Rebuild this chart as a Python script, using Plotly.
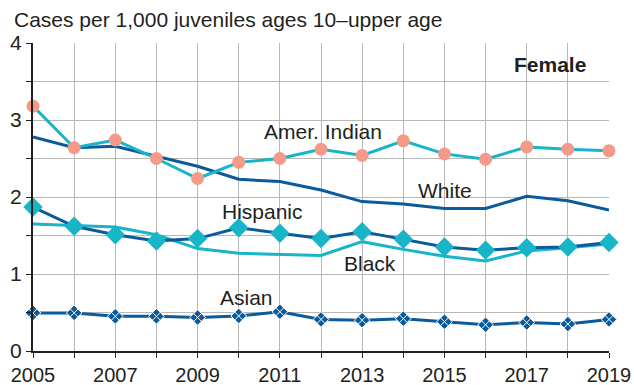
import plotly.graph_objects as go

years = list(range(2005, 2020))
amer_indian = [3.18, 2.64, 2.74, 2.50, 2.24, 2.45, 2.50, 2.62, 2.54, 2.73, 2.56, 2.49, 2.65, 2.62, 2.60]
white = [2.78, 2.64, 2.66, 2.53, 2.40, 2.23, 2.20, 2.09, 1.94, 1.91, 1.85, 1.85, 2.01, 1.95, 1.83]
hispanic = [1.87, 1.62, 1.51, 1.43, 1.46, 1.60, 1.53, 1.46, 1.55, 1.45, 1.35, 1.31, 1.34, 1.35, 1.41]
black = [1.65, 1.63, 1.61, 1.51, 1.33, 1.27, 1.255, 1.24, 1.42, 1.32, 1.23, 1.17, 1.30, 1.34, 1.39]
asian = [0.495, 0.495, 0.45, 0.45, 0.435, 0.455, 0.51, 0.41, 0.40, 0.42, 0.38, 0.34, 0.37, 0.35, 0.41]

y_ticks = [0, 0.5, 1, 1.5, 2, 2.5, 3, 3.5, 4]
y_ticktext = ["0", "", "1", "", "2", "", "3", "", "4"]
x_ticktext = [str(y) if (y - 2005) % 2 == 0 else "" for y in years]

DARK = "#0b5a9c"
CYAN = "#18b4c8"
SALMON = "#f59a88"
FONT = "Liberation Sans, Arial, sans-serif"
TXT = "#231f20"

fig = go.Figure()
fig.add_trace(go.Scatter(x=years, y=white, mode="lines", line=dict(color=DARK, width=3), cliponaxis=False))
fig.add_trace(go.Scatter(x=years, y=black, mode="lines", line=dict(color=CYAN, width=3), cliponaxis=False))
fig.add_trace(go.Scatter(x=years, y=hispanic, mode="lines+markers", line=dict(color=DARK, width=3),
                         marker=dict(symbol="diamond", size=15, color=CYAN), cliponaxis=False))
fig.add_trace(go.Scatter(x=years, y=asian, mode="lines+markers", line=dict(color=DARK, width=3),
                         marker=dict(symbol="diamond-x", size=12, color=DARK, line=dict(color="white", width=1)),
                         cliponaxis=False))
fig.add_trace(go.Scatter(x=years, y=amer_indian, mode="lines+markers", line=dict(color=CYAN, width=3),
                         marker=dict(symbol="circle", size=13, color=SALMON), cliponaxis=False))

labels = [
    ("Amer. Indian", 2012.05, 2.85),
    ("White", 2015.01, 2.08),
    ("Hispanic", 2010.57, 1.81),
    ("Black", 2013.19, 1.13),
    ("Asian", 2010.18, 0.70),
    ("<b>Female</b>", 2017.57, 3.72),
]
for text, x, y in labels:
    fig.add_annotation(x=x, y=y, xref="x", yref="y", text=text, showarrow=False,
                       font=dict(family=FONT, size=21, color=TXT), xanchor="center", yanchor="middle")

fig.add_annotation(x=-0.0365, y=1.075, xref="paper", yref="paper", xanchor="left", yanchor="middle",
                   text="Cases per 1,000 juveniles ages 10\u2013upper age", showarrow=False,
                   font=dict(family=FONT, size=21, color=TXT))

fig.update_layout(
    width=634, height=385,
    margin=dict(l=33, r=25, t=43, b=34, autoexpand=False),
    plot_bgcolor="white", paper_bgcolor="white",
    showlegend=False,
    font=dict(family=FONT, size=20, color=TXT),
)
fig.update_xaxes(range=[2005, 2019], tickvals=years, ticktext=x_ticktext,
                 showgrid=True, gridcolor="#b8b8b8", gridwidth=1,
                 showline=True, linecolor="#231f20", linewidth=2,
                 ticks="outside", ticklen=5, tickcolor="#231f20", zeroline=False,
                 tickfont=dict(size=20), automargin=False, ticklabelstandoff=0)
fig.update_yaxes(range=[0, 4], tickvals=y_ticks, ticktext=y_ticktext,
                 showgrid=True, gridcolor="#b8b8b8", gridwidth=1,
                 showline=True, linecolor="#231f20", linewidth=2,
                 ticks="outside", ticklen=5, tickcolor="#231f20", zeroline=False,
                 tickfont=dict(size=21), automargin=False)

fig.write_html("out.html", config={"displayModeBar": False},
               post_script="document.body.style.margin='0';document.body.style.padding='0';")
